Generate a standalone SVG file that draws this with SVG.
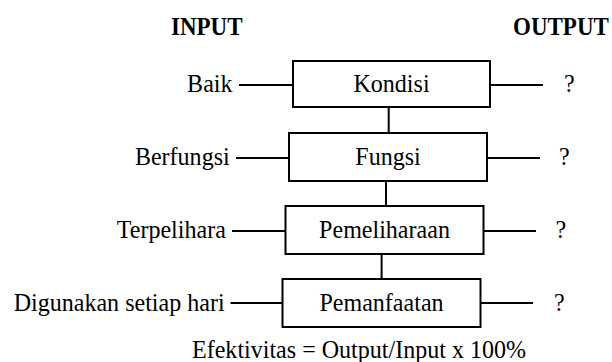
<svg xmlns="http://www.w3.org/2000/svg" width="612" height="362" viewBox="0 0 612 362">
<style>
text{font-family:"Liberation Serif","Times New Roman",serif;font-size:26px;fill:#000}
.h{font-weight:bold;font-size:25px}
.l{text-anchor:end}
.c{text-anchor:middle}
.box{fill:#fff;stroke:#000;stroke-width:2}
line{stroke:#000;stroke-width:2}
</style>
<rect width="612" height="362" fill="#fff"/>
<text class="h" transform="translate(171,35) scale(0.92,1)">INPUT</text>
<text class="h" transform="translate(513,35) scale(0.92,1)">OUTPUT</text>
<g id="connectors">
<line x1="239" y1="85" x2="293" y2="85"/>
<line x1="490" y1="85" x2="543" y2="85"/>
<line x1="236" y1="158" x2="289" y2="158"/>
<line x1="487" y1="158" x2="540" y2="158"/>
<line x1="232" y1="231" x2="285.5" y2="231"/>
<line x1="483.5" y1="231" x2="536" y2="231"/>
<line x1="230.5" y1="303" x2="282.5" y2="303"/>
<line x1="480.5" y1="303" x2="533" y2="303"/>
<line x1="388.7" y1="107" x2="388.7" y2="133"/>
<line x1="386" y1="181" x2="386" y2="206"/>
<line x1="381.6" y1="254" x2="381.6" y2="279"/>
</g>
<g id="kondisi"><rect class="box" x="293" y="61" width="197" height="46"/><text class="c" transform="translate(391.5,92) scale(0.925,1)">Kondisi</text></g>
<g id="fungsi"><rect class="box" x="289" y="133" width="198" height="48"/><text class="c" transform="translate(388,165) scale(0.925,1)">Fungsi</text></g>
<g id="pemeliharaan"><rect class="box" x="285.5" y="206" width="198" height="48"/><text class="c" transform="translate(384.5,238) scale(0.925,1)">Pemeliharaan</text></g>
<g id="pemanfaatan"><rect class="box" x="282.5" y="279" width="198" height="48"/><text class="c" transform="translate(381.5,311) scale(0.925,1)">Pemanfaatan</text></g>
<text class="l" transform="translate(232.5,92) scale(0.925,1)">Baik</text>
<text class="l" transform="translate(229.7,165) scale(0.925,1)">Berfungsi</text>
<text class="l" transform="translate(225.8,238) scale(0.925,1)">Terpelihara</text>
<text class="l" transform="translate(224.6,311) scale(0.925,1)">Digunakan setiap hari</text>
<text transform="translate(564,92) scale(0.925,1)">?</text>
<text transform="translate(559,165) scale(0.925,1)">?</text>
<text transform="translate(555.5,238) scale(0.925,1)">?</text>
<text transform="translate(554,311) scale(0.925,1)">?</text>
<text transform="translate(192,358) scale(0.925,1)">Efektivitas = Output/Input x 100%</text>
</svg>
